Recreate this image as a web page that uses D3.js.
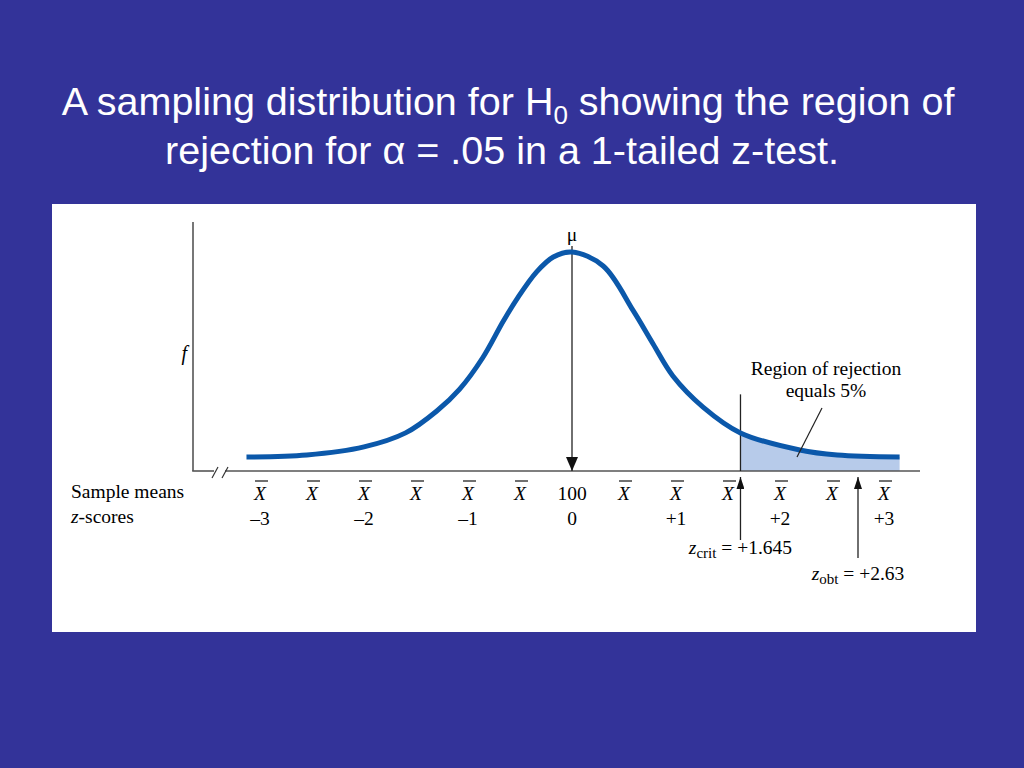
<!DOCTYPE html>
<html>
    <head>
        <title>Region of rejection, 1-tailed z-test</title>
        <meta charset="UTF-8" />
        <script src="https://cdn.jsdelivr.net/npm/d3@7/dist/d3.min.js"></script>
        <style>
            body { margin: 0; background: #333399; }
            svg { display: block; }
        </style>
    </head>
    <body>
        <svg width="1024" height="768"></svg>
        <script>
            // the curve: z position and height (peak = 1)
            var curveZ = [-3.13, -2.55, -2.0, -1.6, -1.3, -1.08, -0.86, -0.66, -0.53, -0.34, -0.18, 0, 0.30, 0.59, 0.78, 0.97, 1.26, 1.62, 2.19, 2.55, 3.15]
            var curveF = [0.064, 0.073, 0.110, 0.174, 0.274, 0.374, 0.516, 0.685, 0.785, 0.909, 0.977, 1, 0.936, 0.731, 0.580, 0.434, 0.292, 0.174, 0.096, 0.073, 0.064]

            var meanTicks = [-3, -2.5, -2, -1.5, -1, -0.5, 0, 0.5, 1, 1.5, 2, 2.5, 3]
            var meanLabels = ["X", "X", "X", "X", "X", "X", "100", "X", "X", "X", "X", "X", "X"]
            var zTicks = [-3, -2, -1, 0, 1, 2, 3]
            var zLabels = ["\u20133", "\u20132", "\u20131", "0", "+1", "+2", "+3"]

            // where the figure puts the two arrows (it is not drawn to scale)
            var markerZ = [1.62, 2.75]
            var markerNames = ["crit", "obt"]
            var markerValues = ["+1.645", "+2.63"]

            var titleLines = ["A sampling distribution for H", "rejection for \u03b1 = .05 in a 1-tailed z-test."]

            var svg = d3.select("svg")
            var serif = "'Liberation Serif', 'Times New Roman', serif"
            var fs = "19.5px"

            // title
            var t1 = svg.append("text")
                .attr("x", 508)
                .attr("y", 115)
                .attr("text-anchor", "middle")
                .style("font-family", "'Liberation Sans', Arial, sans-serif")
                .style("font-size", "39.5px")
                .style("fill", "white")
            t1.append("tspan").text(titleLines[0])
            t1.append("tspan").attr("dy", 9).style("font-size", "26px").text("0")
            t1.append("tspan").attr("dy", -9).text(" showing the region of")

            svg.append("text")
                .attr("x", 502)
                .attr("y", 164)
                .attr("text-anchor", "middle")
                .style("font-family", "'Liberation Sans', Arial, sans-serif")
                .style("font-size", "39.5px")
                .style("fill", "white")
                .text(titleLines[1])

            // white panel
            svg.append("rect")
                .attr("x", 52)
                .attr("y", 204)
                .attr("width", 924)
                .attr("height", 428)
                .attr("fill", "white")

            var xScale = d3.scaleLinear().domain([-3, 3]).range([260, 884])
            var yScale = d3.scaleLinear().domain([0, 1]).range([471, 252])

            var defs = svg.append("defs")
            defs.append("marker")
                .attr("id", "bigHead")
                .attr("viewBox", "0 0 14 12")
                .attr("refX", 14)
                .attr("refY", 6)
                .attr("markerWidth", 14)
                .attr("markerHeight", 12)
                .attr("markerUnits", "userSpaceOnUse")
                .attr("orient", "auto")
                .append("path")
                .attr("d", "M0,0L14,6L0,12z")
                .attr("fill", "#111")
            defs.append("marker")
                .attr("id", "smallHead")
                .attr("viewBox", "0 0 12 8")
                .attr("refX", 12)
                .attr("refY", 4)
                .attr("markerWidth", 12)
                .attr("markerHeight", 8)
                .attr("markerUnits", "userSpaceOnUse")
                .attr("orient", "auto")
                .append("path")
                .attr("d", "M0,0L12,4L0,8z")
                .attr("fill", "#111")

            defs.append("clipPath")
                .attr("id", "tailClip")
                .append("rect")
                .attr("x", xScale(markerZ[0]))
                .attr("y", 200)
                .attr("width", 300)
                .attr("height", 300)

            var points = curveZ.map((z, i) => [z, curveF[i]])

            // shaded tail
            var area = d3.area()
                .x(d => xScale(d[0]))
                .y0(yScale(0))
                .y1(d => yScale(d[1]))
                .curve(d3.curveCatmullRom)
            svg.append("path")
                .attr("d", area(points))
                .attr("fill", "#b7cbea")
                .attr("clip-path", "url(#tailClip)")

            // axes with the break
            var axisColor = "#555"
            var x0 = 193
            svg.append("line")
                .attr("x1", x0).attr("y1", 222)
                .attr("x2", x0).attr("y2", yScale(0))
                .attr("stroke", axisColor).attr("stroke-width", 1.6)
            svg.append("line")
                .attr("x1", x0 - 0.8).attr("y1", yScale(0))
                .attr("x2", 214).attr("y2", yScale(0))
                .attr("stroke", axisColor).attr("stroke-width", 1.6)
            svg.append("line")
                .attr("x1", 225).attr("y1", yScale(0))
                .attr("x2", 920).attr("y2", yScale(0))
                .attr("stroke", axisColor).attr("stroke-width", 1.6)
            svg.selectAll("line.brk")
                .data([212, 222])
                .enter()
                .append("line")
                .attr("class", "brk")
                .attr("x1", d => d).attr("y1", yScale(0) + 7)
                .attr("x2", d => d + 6).attr("y2", yScale(0) - 4)
                .attr("stroke", "#333").attr("stroke-width", 1.2)

            // critical line
            svg.append("line")
                .attr("x1", xScale(markerZ[0])).attr("y1", yScale(0.35))
                .attr("x2", xScale(markerZ[0])).attr("y2", yScale(0))
                .attr("stroke", "#222").attr("stroke-width", 1.3)

            // mean arrow
            svg.append("line")
                .attr("x1", xScale(0)).attr("y1", yScale(1) - 6)
                .attr("x2", xScale(0)).attr("y2", yScale(0))
                .attr("stroke", "#222").attr("stroke-width", 1.3)
                .attr("marker-end", "url(#bigHead)")

            // the curve
            var line = d3.line()
                .x(d => xScale(d[0]))
                .y(d => yScale(d[1]))
                .curve(d3.curveCatmullRom)
            svg.append("path")
                .attr("d", line(points))
                .attr("fill", "none")
                .attr("stroke", "#0b58aa")
                .attr("stroke-width", 5)

            svg.append("text")
                .attr("x", xScale(0))
                .attr("y", 241)
                .attr("text-anchor", "middle")
                .style("font-family", serif)
                .style("font-size", fs)
                .text("\u03bc")

            svg.append("text")
                .attr("x", 187)
                .attr("y", 360)
                .attr("text-anchor", "end")
                .style("font-family", serif)
                .style("font-style", "italic")
                .style("font-size", "20px")
                .text("f")

            // row labels
            svg.append("text")
                .attr("x", 71).attr("y", 498)
                .style("font-family", serif).style("font-size", fs)
                .text("Sample means")
            var zs = svg.append("text")
                .attr("x", 71).attr("y", 523)
                .style("font-family", serif).style("font-size", fs)
            zs.append("tspan").style("font-style", "italic").text("z")
            zs.append("tspan").text("-scores")

            // sample mean labels
            svg.selectAll("text.mean")
                .data(meanTicks)
                .enter()
                .append("text")
                .attr("class", "mean")
                .attr("x", d => xScale(d))
                .attr("y", 500)
                .attr("text-anchor", "middle")
                .style("font-family", serif)
                .style("font-size", fs)
                .style("font-style", (d, i) => meanLabels[i] == "X" ? "italic" : "normal")
                .text((d, i) => meanLabels[i])
            svg.selectAll("line.bar")
                .data(meanTicks.filter((d, i) => meanLabels[i] == "X"))
                .enter()
                .append("line")
                .attr("class", "bar")
                .attr("x1", d => xScale(d) - 5)
                .attr("x2", d => xScale(d) + 8)
                .attr("y1", 481)
                .attr("y2", 481)
                .attr("stroke", "#111")
                .attr("stroke-width", 1.2)

            // z-score labels
            svg.selectAll("text.zs")
                .data(zTicks)
                .enter()
                .append("text")
                .attr("class", "zs")
                .attr("x", d => xScale(d))
                .attr("y", 525)
                .attr("text-anchor", "middle")
                .style("font-family", serif)
                .style("font-size", fs)
                .text((d, i) => zLabels[i])

            // z crit and z obt arrows
            var arrowBottoms = [540, 558]
            svg.selectAll("line.arrow")
                .data(markerZ)
                .enter()
                .append("line")
                .attr("class", "arrow")
                .attr("x1", d => xScale(d)).attr("y1", (d, i) => arrowBottoms[i])
                .attr("x2", d => xScale(d)).attr("y2", yScale(0) + 6)
                .attr("stroke", "#222").attr("stroke-width", 1.3)
                .attr("marker-end", "url(#smallHead)")

            markerZ.forEach((z, i) => {
                var lab = svg.append("text")
                    .attr("x", xScale(z))
                    .attr("y", arrowBottoms[i] + 14 + i * 8)
                    .attr("text-anchor", "middle")
                    .style("font-family", serif)
                    .style("font-size", fs)
                lab.append("tspan").style("font-style", "italic").text("z")
                lab.append("tspan").attr("dy", 4).style("font-size", "15px").text(markerNames[i])
                lab.append("tspan").attr("dy", -4).text(" = " + markerValues[i])
            })

            // region note
            var note = svg.append("text")
                .attr("x", 826)
                .attr("y", 375)
                .attr("text-anchor", "middle")
                .style("font-family", serif)
                .style("font-size", fs)
            note.append("tspan").attr("x", 826).text("Region of rejection")
            note.append("tspan").attr("x", 826).attr("dy", 22).text("equals 5%")

            svg.append("line")
                .attr("x1", 822).attr("y1", 408)
                .attr("x2", 797).attr("y2", 457)
                .attr("stroke", "#222").attr("stroke-width", 1.2)
        </script>
    </body>
</html>
